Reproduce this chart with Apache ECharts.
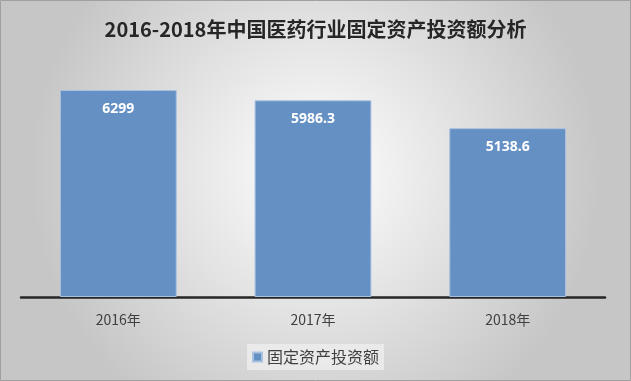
<!DOCTYPE html>
<html><head><meta charset="utf-8">
<script src="https://cdn.jsdelivr.net/npm/echarts@6/dist/echarts.min.js"></script>
<style>html,body{margin:0;padding:0;}#c{width:631px;height:381px;}</style>
</head><body><div id="c"></div>
<script>
const categories = ['2016年', '2017年', '2018年'];
const values = [6299, 5986.3, 5138.6];
const seriesName = '固定资产投资额';
const titleText = '2016-2018年中国医药行业固定资产投资额分析';

const chart = echarts.init(document.getElementById('c'));
chart.setOption({
  backgroundColor: {
    type: 'radial', x: 0.5, y: 0.45, r: 0.75,
    colorStops: [{offset: 0, color: '#ffffff'}, {offset: 1, color: '#c6c6c6'}]
  },
  title: {
    text: titleText, left: 'center', top: 14,
    textStyle: {fontFamily: 'Noto Sans CJK SC', fontSize: 20, fontWeight: 'bold', color: '#262626'}
  },
  legend: {
    bottom: 11, left: 'center', itemWidth: 9, itemHeight: 9, itemGap: 5,
    backgroundColor: 'rgba(238,238,238,0.8)', padding: [5, 5],
    textStyle: {fontFamily: 'Noto Sans CJK SC', fontSize: 16, color: '#404040'},
    data: [{name: seriesName, icon: 'rect'}]
  },
  grid: {left: 21, right: 26, top: 67, bottom: 84},
  xAxis: {
    type: 'category', data: categories,
    axisLine: {lineStyle: {color: '#262626', width: 2.5}},
    axisTick: {show: false},
    axisLabel: {margin: 16, fontFamily: 'Noto Sans CJK SC', fontSize: 14, color: '#404040'}
  },
  yAxis: {type: 'value', min: 0, max: 7000, show: false, splitLine: {show: false}},
  series: [{
    name: seriesName, type: 'bar', data: values, barWidth: '60%',
    itemStyle: {color: '#6590c4', borderColor: '#a9c1e0', borderWidth: 1},
    label: {show: true, position: 'insideTop', distance: 12, color: '#ffffff',
      fontFamily: 'Noto Sans', fontWeight: 'bold', fontSize: 14}
  }],
  graphic: [{type: 'rect', shape: {x: 0.5, y: 0.5, width: 630, height: 380},
    style: {fill: 'none', stroke: '#a0a0a0', lineWidth: 1}, silent: true}]
});
</script></body></html>
